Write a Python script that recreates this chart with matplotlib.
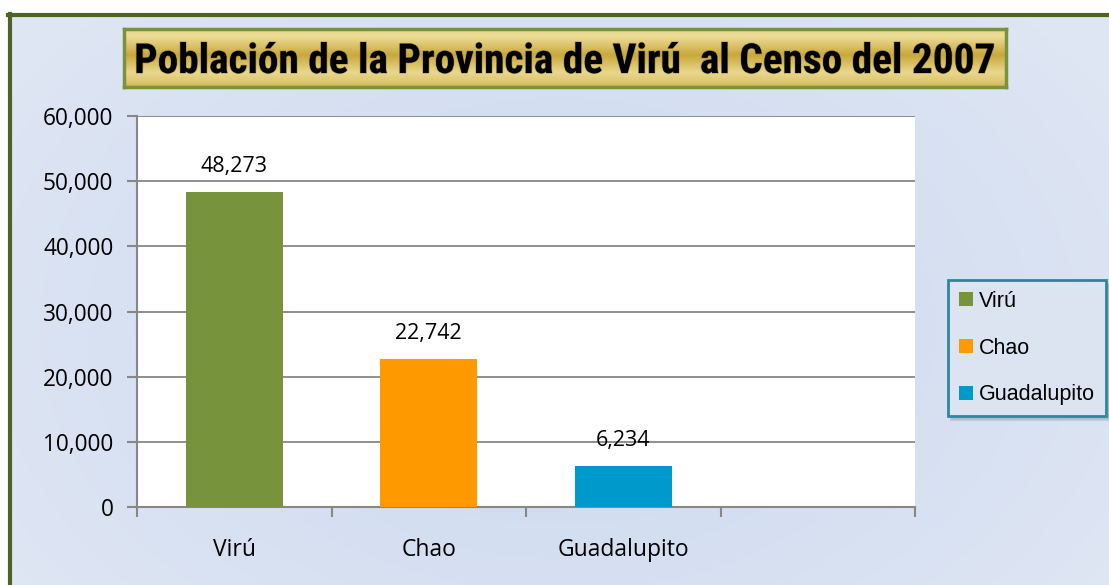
import numpy as np
import matplotlib
matplotlib.use("Agg")
import matplotlib.pyplot as plt
import matplotlib.patheffects as pe
from matplotlib import font_manager
from matplotlib.patches import Patch
from matplotlib.ticker import FuncFormatter, MultipleLocator

categories = ["Virú", "Chao", "Guadalupito", ""]
values = [48273, 22742, 6234]
colors = ["#77933C", "#FF9900", "#0099CC"]
title = "Población de la Provincia de Virú  al Censo del 2007"

W, H = 1109, 585
fig = plt.figure(figsize=(W / 100, H / 100), dpi=100)
fig.patch.set_facecolor("white")

def fx(px):
    return px / W

def fy(py):
    return 1 - py / H

def pick_family(cands):
    for c in cands:
        try:
            font_manager.findfont(font_manager.FontProperties(family=c, weight="bold"),
                                  fallback_to_default=False)
            return c
        except Exception:
            continue
    return "Liberation Sans"

title_family = pick_family(["Liberation Sans Narrow", "Arial Narrow", "Roboto Condensed",
                            "Open Sans Condensed", "Liberation Sans"])

# background gradient area inside the border
bg = fig.add_axes([fx(9), 0, 1 - fx(9), fy(14)], zorder=0)
yy, xx = np.mgrid[0:1:200j, 0:1:400j]
d = np.sqrt(((xx - 0.5) / 0.5) ** 2 * 0.6 + ((yy - 0.55) / 0.55) ** 2 * 0.4)
d = np.clip(d, 0, 1)
c0 = np.array([203, 216, 239]) / 255
c1 = np.array([224, 231, 244]) / 255
img = c0[None, None, :] * (1 - d[..., None]) + c1[None, None, :] * d[..., None]
bg.imshow(img, aspect="auto", extent=[0, 1, 0, 1])
bg.set_axis_off()

# olive border lines (left and top)
fig.add_artist(plt.Line2D([fx(9.5), fx(9.5)], [0, fy(14)], color="#4F6228", lw=3, zorder=1))
fig.add_artist(plt.Line2D([fx(8), 1], [fy(15), fy(15)], color="#4F6228", lw=3, zorder=1))

# main axes
ax = fig.add_axes([fx(137), fy(507), fx(915) - fx(137), fy(116) - fy(507)], zorder=2)
ax.set_facecolor("white")
x = np.arange(len(categories))
ax.bar(x[:len(values)], values, width=0.5, color=colors, zorder=3)
ax.set_xlim(-0.5, len(categories) - 0.5)
ax.set_ylim(0, 60000)
ax.yaxis.set_major_locator(MultipleLocator(10000))
ax.yaxis.set_major_formatter(FuncFormatter(lambda v, p: f"{int(v):,}"))
ax.grid(axis="y", color="#878787", lw=1.3, zorder=1)
ax.set_axisbelow(True)
for s in ["top", "right"]:
    ax.spines[s].set_visible(False)
for s in ["left", "bottom"]:
    ax.spines[s].set_color("#878787")
    ax.spines[s].set_linewidth(1.5)
ax.set_xticks(np.arange(len(categories) + 1) - 0.5)
ax.set_xticklabels([])
ax.set_xticks(x, minor=True)
ax.set_xticklabels(categories, minor=True, fontsize=16.5, family="Open Sans")
ax.tick_params(axis="x", which="minor", length=0, pad=22)
ax.tick_params(axis="x", which="major", length=7, width=1.5, color="#878787", direction="out")
ax.tick_params(axis="y", length=7, width=1.5, color="#878787", pad=10)
for lab in ax.get_yticklabels():
    lab.set_family("Open Sans")
    lab.set_fontsize(16.3)
for xi, v in zip(x, values):
    ax.annotate(f"{v:,}", (xi, v), xytext=(0, 11), textcoords="offset points",
                ha="center", va="bottom", fontsize=15.5, family="Open Sans")

# legend
handles = [Patch(facecolor=c, label=cat) for c, cat in zip(colors, categories[:3])]
leg = fig.legend(handles=handles, loc="upper left",
                 bbox_to_anchor=(fx(948), fy(280)), frameon=True, fancybox=False,
                 shadow={"color": "#8f9bb0", "alpha": 0.35},
                 prop={"family": "Liberation Sans", "size": 15.5}, handlelength=0.65,
                 handleheight=0.65, handletextpad=0.3, labelspacing=1.2,
                 borderpad=0.5, borderaxespad=0)
fr = leg.get_frame()
fr.set_edgecolor("#31859C")
fr.set_linewidth(2)
fr.set_facecolor("#DCE4F2")
leg.set_zorder(5)

# title box
tax = fig.add_axes([fx(124), fy(87), fx(1006) - fx(124), fy(29) - fy(87)], zorder=4)
t = np.linspace(0, 1, 100)
gold_dark = np.array([201, 168, 60]) / 255
gold_light = np.array([236, 221, 150]) / 255
prof = np.interp(t, [0, 0.12, 0.45, 0.75, 0.92, 1.0], [0.9, 1.0, 0.0, 0.9, 0.55, 0.2])
gimg = gold_dark[None, :] * (1 - prof[:, None]) + gold_light[None, :] * prof[:, None]
gimg = np.repeat(gimg[:, None, :], 10, axis=1)
tax.imshow(gimg, aspect="auto", extent=[0, 1, 0, 1], origin="upper")
tax.set_xlim(0, 1)
tax.set_ylim(0, 1)
tax.set_xticks([])
tax.set_yticks([])
for s in tax.spines.values():
    s.set_color("#77933C")
    s.set_linewidth(2.5)

# fit the title width to ~860 px
fs = 30.5
tt = fig.text(fx(565), fy(73), title, ha="center", va="baseline", fontsize=fs,
              fontweight="bold", family=title_family, color="black", zorder=6)
renderer = fig.canvas.get_renderer()
wpx = tt.get_window_extent(renderer).width
fs = min(fs * 862 / wpx, 34)
tt.set_fontsize(fs)
tt.set_path_effects([pe.withStroke(linewidth=1.0, foreground="#5a4c1a", alpha=0.35)])

fig.savefig("out.png", dpi=100)
